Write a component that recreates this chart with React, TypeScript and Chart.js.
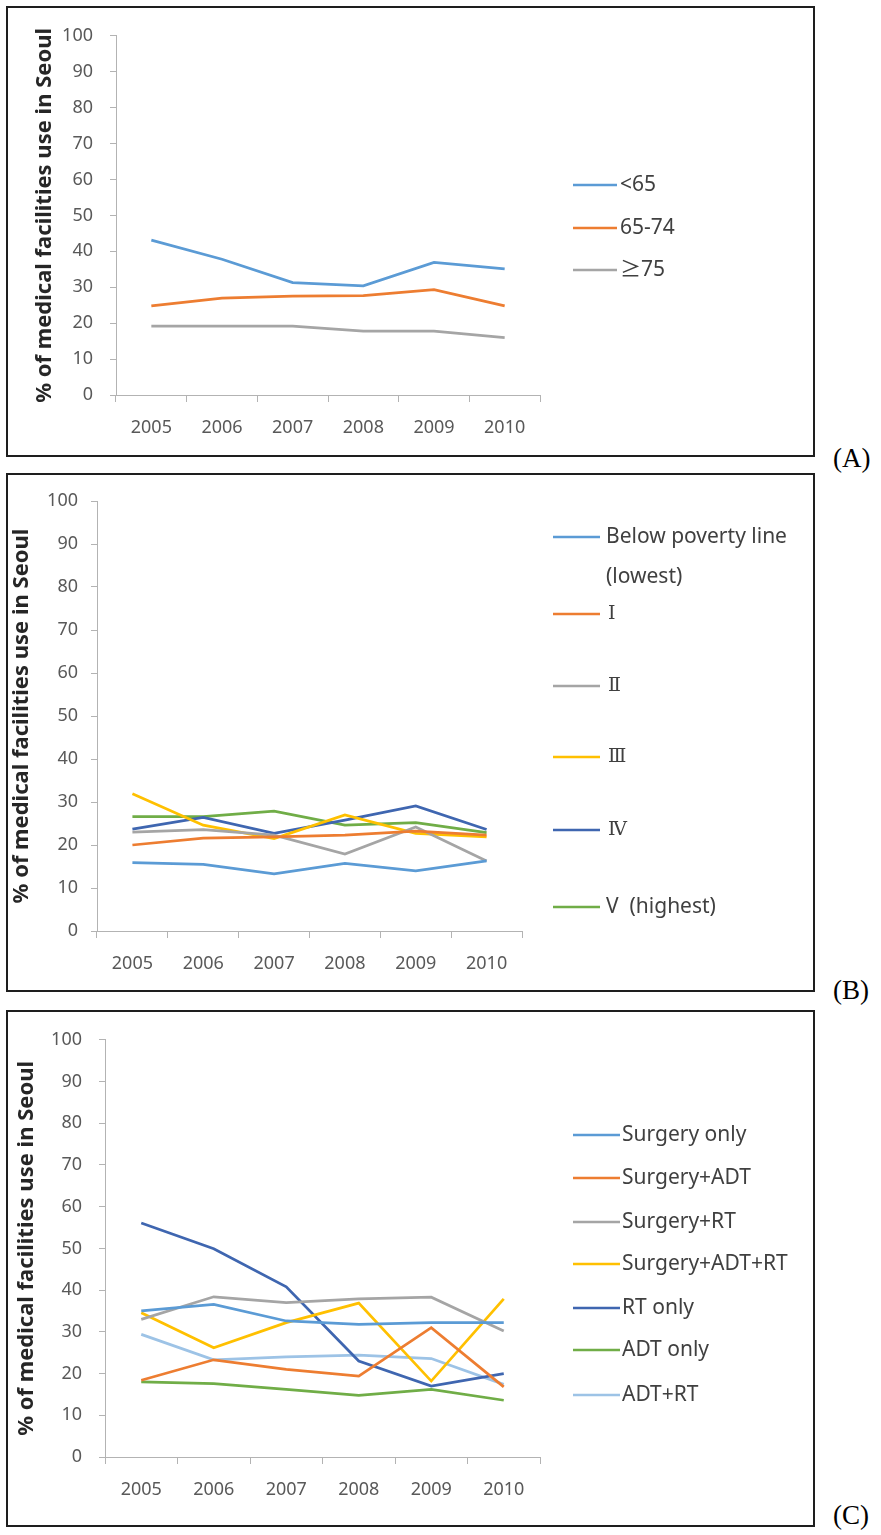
import React, { useEffect, useRef } from "react";
import { Chart, registerables } from "chart.js";

Chart.register(...registerables);

// ---------- data ----------
const years = ["2005", "2006", "2007", "2008", "2009", "2010"];
const yAxisTitle = "% of medical facilities use in Seoul";

// Panel A: age groups
const ageLabels = ["<65", "65-74", "≥75"];
const ageUnder65 = [43.1, 37.8, 31.3, 30.4, 36.9, 35.1];
const age65to74 = [24.8, 27.0, 27.5, 27.7, 29.3, 24.8];
const age75plus = [19.2, 19.2, 19.2, 17.8, 17.8, 16.0];

// Panel B: income levels
const incomeLabels: (string | string[])[] = [
  ["Below poverty line", "(lowest)"],
  "Ⅰ",
  "Ⅱ",
  "Ⅲ",
  "Ⅳ",
  "V  (highest)",
];
const incomeBelowPoverty = [15.9, 15.5, 13.3, 15.7, 14.0, 16.3];
const incomeI = [20.0, 21.6, 21.9, 22.3, 23.2, 22.3];
const incomeII = [23.0, 23.6, 22.3, 17.9, 24.2, 16.3];
const incomeIII = [31.9, 24.6, 21.5, 27.0, 22.7, 21.9];
const incomeIV = [23.7, 26.4, 22.7, 25.8, 29.1, 23.6];
const incomeV = [26.6, 26.6, 27.9, 24.6, 25.2, 22.9];

// Panel C: treatment types
const treatLabels = [
  "Surgery only",
  "Surgery+ADT",
  "Surgery+RT",
  "Surgery+ADT+RT",
  "RT only",
  "ADT only",
  "ADT+RT",
];
const treatSurgeryOnly = [35.0, 36.6, 32.6, 31.8, 32.2, 32.2];
const treatSurgeryADT = [18.4, 23.3, 21.0, 19.4, 31.0, 16.8];
const treatSurgeryRT = [33.0, 38.4, 37.0, 37.9, 38.3, 30.2];
const treatSurgeryADTRT = [34.6, 26.2, 32.2, 36.9, 18.2, 37.9];
const treatRTOnly = [56.1, 49.9, 40.8, 23.0, 17.0, 20.0];
const treatADTOnly = [18.0, 17.6, 16.2, 14.8, 16.2, 13.6];
const treatADTRT = [29.4, 23.3, 24.0, 24.4, 23.6, 17.4];

// ---------- styles / layout ----------
const FONT = '"Noto Sans", "Noto Sans CJK KR", sans-serif';
const ROMAN_FONT = '"DejaVu Serif", "Liberation Serif", serif';
const AXIS_COLOR = "#b3b3b3";
const TICK_COLOR = "#595959";
const TEXT_COLOR = "#404040";
const BORDER = 2;
const TITLE_SIZE = 22;

const C_BLUE = "#5b9bd5";
const C_ORANGE = "#ed7d31";
const C_GRAY = "#a5a5a5";
const C_YELLOW = "#ffc000";
const C_DKBLUE = "#3f66b0";
const C_GREEN = "#70ad47";
const C_LTBLUE = "#9dc3e6";

type Panel = {
  tag: string;
  tagY: number;
  box: { left: number; top: number; right: number; bottom: number };
  plot: { left: number; right: number; top: number; bottom: number };
  titleX: number;
  tickPad: number;
  labels: (string | string[])[];
  series: number[][];
  colors: string[];
  legend: { x0: number; x1: number; tx: number; ys: number[]; lineGap: number; size: number };
};

const panels: Panel[] = [
  {
    tag: "(A)",
    tagY: 458,
    box: { left: 6, top: 6, right: 815, bottom: 457 },
    plot: { left: 116, right: 540, top: 27, bottom: 395 },
    titleX: 45,
    tickPad: 17,
    labels: ageLabels,
    series: [ageUnder65, age65to74, age75plus],
    colors: [C_BLUE, C_ORANGE, C_GRAY],
    legend: { x0: 573, x1: 617, tx: 620, ys: [185, 228, 270], lineGap: 40, size: 21 },
  },
  {
    tag: "(B)",
    tagY: 990,
    box: { left: 6, top: 473, right: 815, bottom: 992 },
    plot: { left: 97, right: 522, top: 501, bottom: 931 },
    titleX: 22,
    tickPad: 13,
    labels: incomeLabels,
    series: [incomeBelowPoverty, incomeI, incomeII, incomeIII, incomeIV, incomeV],
    colors: [C_BLUE, C_ORANGE, C_GRAY, C_YELLOW, C_DKBLUE, C_GREEN],
    legend: { x0: 553, x1: 600, tx: 606, ys: [537, 614, 686, 757, 830, 907], lineGap: 40, size: 21 },
  },
  {
    tag: "(C)",
    tagY: 1515,
    box: { left: 6, top: 1010, right: 815, bottom: 1527 },
    plot: { left: 105, right: 540, top: 1034, bottom: 1457 },
    titleX: 27,
    tickPad: 17,
    labels: treatLabels,
    series: [
      treatSurgeryOnly,
      treatSurgeryADT,
      treatSurgeryRT,
      treatSurgeryADTRT,
      treatRTOnly,
      treatADTOnly,
      treatADTRT,
    ],
    colors: [C_BLUE, C_ORANGE, C_GRAY, C_YELLOW, C_DKBLUE, C_GREEN, C_LTBLUE],
    legend: {
      x0: 573,
      x1: 620,
      tx: 622,
      ys: [1135, 1178, 1222, 1264, 1308, 1350, 1395],
      lineGap: 40,
      size: 21,
    },
  },
];

const sideLegend = {
  id: "sideLegend",
  afterDraw(chart: any, _args: any, opts: any) {
    const ctx = chart.ctx as CanvasRenderingContext2D;
    const { x0, x1, tx, ys, lineGap, size, ox, oy, texts } = opts;
    ctx.save();
    chart.data.datasets.forEach((ds: any, i: number) => {
      const y = ys[i] - oy;
      ctx.beginPath();
      ctx.strokeStyle = ds.borderColor;
      ctx.lineWidth = 2.5;
      ctx.moveTo(x0 - ox, y);
      ctx.lineTo(x1 - ox, y);
      ctx.stroke();
      ctx.fillStyle = TEXT_COLOR;
      ctx.textBaseline = "middle";
      ctx.textAlign = "left";
      const t = texts[i];
      const lines = Array.isArray(t) ? t : [t];
      lines.forEach((ln: string, k: number) => {
        const roman = /^[ⅠⅡⅢⅣ]/.test(ln);
        ctx.font = roman ? `19px ${ROMAN_FONT}` : `${size}px ${FONT}`;
        ctx.fillText(ln, tx - ox + (roman ? 2 : 0), y + k * lineGap);
      });
    });
    ctx.restore();
  },
};

function PanelChart({ p }: { p: Panel }) {
  const ref = useRef<HTMLCanvasElement | null>(null);
  const ox = p.box.left + BORDER;
  const oy = p.box.top + BORDER;
  const cw = p.box.right - p.box.left - 2 * BORDER;
  const ch = p.box.bottom - p.box.top - 2 * BORDER;

  useEffect(() => {
    if (!ref.current) return;
    const xAxisH = 50;
    const chart = new Chart(ref.current, {
      type: "line",
      data: {
        labels: years,
        datasets: p.series.map((s, i) => ({
          label: Array.isArray(p.labels[i]) ? (p.labels[i] as string[]).join(" ") : (p.labels[i] as string),
          data: s,
          borderColor: p.colors[i],
          backgroundColor: p.colors[i],
          borderWidth: 2.75,
          pointRadius: 0,
          fill: false,
          tension: 0,
        })),
      },
      options: {
        responsive: false,
        animation: false,
        events: [],
        layout: {
          padding: {
            left: 0,
            top: p.plot.top - oy,
            right: cw - (p.plot.right - ox),
            bottom: ch - (p.plot.bottom - oy) - xAxisH,
          },
        },
        plugins: {
          legend: { display: false },
          tooltip: { enabled: false },
          sideLegend: { ...p.legend, ox, oy, texts: p.labels },
        } as any,
        scales: {
          x: {
            type: "category",
            offset: true,
            grid: { offset: true, drawOnChartArea: false, drawTicks: true, tickLength: 7, color: AXIS_COLOR },
            border: { color: AXIS_COLOR, width: 1 },
            ticks: { color: TICK_COLOR, font: { family: FONT, size: 18 }, padding: 15, maxRotation: 0, autoSkip: false },
            afterFit: (s: any) => {
              s.height = xAxisH;
            },
          },
          y: {
            min: 0,
            max: 100,
            ticks: { stepSize: 10, color: TICK_COLOR, font: { family: FONT, size: 18 }, padding: p.tickPad },
            grid: { drawOnChartArea: false, drawTicks: true, tickLength: 6, color: AXIS_COLOR },
            border: { color: AXIS_COLOR, width: 1 },
            title: {
              display: true,
              text: yAxisTitle,
              color: "#262626",
              font: { family: FONT, size: TITLE_SIZE, weight: "bold" },
              padding: { top: Math.max(0, p.titleX - ox - TITLE_SIZE * 0.6), bottom: 0 },
            },
            afterFit: (s: any) => {
              s.width = p.plot.left - ox;
            },
          },
        },
      } as any,
      plugins: [sideLegend],
    });
    return () => chart.destroy();
  }, []);

  return (
    <>
      <div
        style={{
          position: "absolute",
          left: p.box.left,
          top: p.box.top,
          width: p.box.right - p.box.left,
          height: p.box.bottom - p.box.top,
          border: `${BORDER}px solid #1e1e1e`,
          boxSizing: "border-box",
          background: "#fff",
        }}
      >
        <canvas ref={ref} width={cw} height={ch} style={{ position: "absolute", left: 0, top: 0, width: cw, height: ch }} />
      </div>
      <div
        style={{
          position: "absolute",
          left: 833,
          top: p.tagY - 16,
          height: 32,
          lineHeight: "32px",
          fontFamily: '"Liberation Serif", "DejaVu Serif", serif',
          fontSize: 27,
          color: "#000",
        }}
      >
        {p.tag}
      </div>
    </>
  );
}

export default function App() {
  return (
    <div style={{ position: "absolute", left: 0, top: 0, width: 881, height: 1535, background: "#fff", overflow: "hidden" }}>
      {panels.map((p) => (
        <PanelChart key={p.tag} p={p} />
      ))}
    </div>
  );
}
